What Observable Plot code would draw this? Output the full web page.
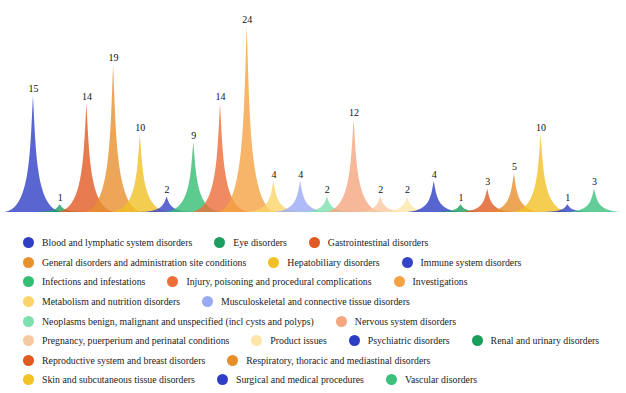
<!DOCTYPE html>
<html>
<head>
<meta charset="utf-8">
<script src="https://cdn.jsdelivr.net/npm/d3@7"></script>
<script src="https://cdn.jsdelivr.net/npm/@observablehq/plot@0.6"></script>
<style>
  html, body { margin: 0; padding: 0; background: #fff; }
  #chart { width: 626px; height: 220px; }
  #legend {
    box-sizing: border-box;
    width: 626px;
    padding: 13px 14px 0 23px;
    display: flex; flex-wrap: wrap; column-gap: 22px; row-gap: 0;
    font-family: "Liberation Serif", "Times New Roman", serif;
    font-size: 9.8px; color: #222;
  }
  .item { display: flex; align-items: center; height: 19.6px; white-space: nowrap; }
  .sw { width: 11px; height: 11px; border-radius: 50%; margin-right: 8px; flex: none; }
</style>
</head>
<body>
<div id="chart"></div>
<div id="legend"></div>
<script>
const categories = [
  "Blood and lymphatic system disorders",
  "Eye disorders",
  "Gastrointestinal disorders",
  "General disorders and administration site conditions",
  "Hepatobiliary disorders",
  "Immune system disorders",
  "Infections and infestations",
  "Injury, poisoning and procedural complications",
  "Investigations",
  "Metabolism and nutrition disorders",
  "Musculoskeletal and connective tissue disorders",
  "Neoplasms benign, malignant and unspecified (incl cysts and polyps)",
  "Nervous system disorders",
  "Pregnancy, puerperium and perinatal conditions",
  "Product issues",
  "Psychiatric disorders",
  "Renal and urinary disorders",
  "Reproductive system and breast disorders",
  "Respiratory, thoracic and mediastinal disorders",
  "Skin and subcutaneous tissue disorders",
  "Surgical and medical procedures",
  "Vascular disorders"
];
const values = [15, 1, 14, 19, 10, 2, 9, 14, 24, 4, 4, 2, 12, 2, 2, 4, 1, 3, 5, 10, 1, 3];
const colors = [
  "#2f3fc4", "#1e9e5e", "#e05a24", "#e8902e", "#f0c024", "#3444c8",
  "#34be74", "#ec6e3a", "#f4a244", "#fad46a", "#9aaaf4", "#7ee0ae",
  "#f4a67e", "#f8c8a0", "#fde6a8", "#2e3ec4", "#1a9e5c", "#e05a22",
  "#e68e2a", "#f2c226", "#2f3fc4", "#3cc07e"
];

// Spike symbol outline (unit shape): cubic bezier from base edge (1,0) to tip (0,1)
// control points (0.1,0) and (0.1,0.5); halfWidth in category-index units.
const halfWidth = 1.15;
const N = 40;
function bez(t, p0, p1, p2, p3) {
  const u = 1 - t;
  return u*u*u*p0 + 3*u*u*t*p1 + 3*u*t*t*p2 + t*t*t*p3;
}
const pts = [];
values.forEach((v, i) => {
  const cat = categories[i];
  for (let k = 0; k <= N; k++) {
    const t = k / N;
    pts.push({cat, x: i - halfWidth * bez(t, 1, 0.1, 0.1, 0), y: v * bez(t, 0, 0, 0.5, 1)});
  }
  for (let k = N - 1; k >= 0; k--) {
    const t = k / N;
    pts.push({cat, x: i + halfWidth * bez(t, 1, 0.1, 0.1, 0), y: v * bez(t, 0, 0, 0.5, 1)});
  }
});
const labels = values.map((v, i) => ({i, v, cat: categories[i]}));

const chart = Plot.plot({
  width: 626,
  height: 220,
  marginTop: 26,
  marginBottom: 8,
  marginLeft: 19.6,
  marginRight: 18.6,
  x: {domain: [-0.5, 21.5], axis: null},
  y: {domain: [0, 24], axis: null},
  color: {domain: categories, range: colors},
  style: {fontFamily: "Liberation Serif, serif", background: "transparent"},
  marks: [
    Plot.areaY(pts, {x: "x", y: "y", z: "cat", fill: "cat", fillOpacity: 0.8, curve: "linear"}),
    Plot.text(labels, {x: "i", y: "v", text: d => String(d.v), lineAnchor: "bottom", dy: -4, fontSize: 10, fill: "#111"})
  ]
});
document.getElementById("chart").appendChild(chart);

const legend = document.getElementById("legend");
categories.forEach((c, i) => {
  const it = document.createElement("div");
  it.className = "item";
  const sw = document.createElement("span");
  sw.className = "sw";
  sw.style.background = colors[i];
  const tx = document.createElement("span");
  tx.textContent = c;
  it.appendChild(sw); it.appendChild(tx);
  legend.appendChild(it);
});
</script>
</body>
</html>
